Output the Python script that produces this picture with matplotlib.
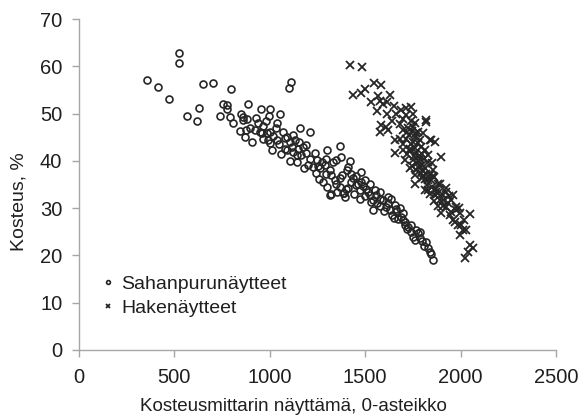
import matplotlib
matplotlib.use("Agg")
import matplotlib.pyplot as plt

plt.rcParams['font.family'] = ['Liberation Sans', 'DejaVu Sans']

# Sahanpurunäytteet (x = mittarin näyttämä, y = kosteus %)
saha_x = [354, 412, 473, 522, 525, 567, 618, 627, 648, 703, 740, 752, 778, 778, 799,
          791, 808, 847, 857, 860, 878, 843, 873, 895, 904, 887, 930, 939, 955, 1003,
          998, 1054, 965, 960, 983, 1003, 962, 991, 1017, 1038, 1003, 1014, 1070, 1157, 1213,
          1077, 1105, 1114, 1091, 1122, 1105, 1154, 1175, 1192, 1140, 1166, 1140, 1189, 1210, 1201,
          1236, 1245, 1271, 1227, 1262, 1288, 1297, 1302, 1367, 1332, 1349, 1375, 1314, 1293, 1258,
          1323, 1340, 1367, 1402, 1422, 1410, 1428, 1437, 1454, 1480, 1314, 1388, 1398, 1454, 1471,
          1489, 1506, 1527, 1471, 1524, 1541, 1550, 1559, 1541, 1323, 1384, 1393, 1349, 1428, 1515,
          1532, 1576, 1593, 1620, 1637, 1611, 1628, 1655, 1663, 1681, 1672, 1690, 1707, 1724, 1742,
          1742, 1768, 1777, 1785, 1759, 1785, 1817, 1829, 1838, 1847, 1855, 1110, 1100,
          1050, 1060, 1130, 1180, 1240, 1280, 1300, 1350, 1370, 1410, 1440, 1500, 1560, 1580, 1600,
          1640, 1650, 1700, 1710, 1720, 1750, 1800, 1810, 1700, 1580, 1620, 1660, 1480, 1500, 1380,
          1460, 1250, 1150, 1080, 920, 950, 1030, 1120, 1090, 870, 980, 1040]
saha_y = [57.2, 55.7, 53.1, 62.9, 60.7, 49.4, 48.4, 51.1, 56.2, 56.4, 49.4, 52.0, 51.9, 51.0, 55.1,
          49.2, 48.1, 50.0, 48.6, 49.3, 48.8, 46.3, 46.6, 47.0, 44.0, 52.0, 49.0, 48.1, 51.0, 51.0,
          49.5, 50.0, 47.4, 45.8, 45.8, 46.2, 44.7, 44.5, 45.2, 44.5, 43.7, 42.3, 46.0, 47.0, 46.0,
          42.6, 43.9, 43.0, 42.3, 41.9, 40.0, 44.0, 43.0, 43.3, 41.2, 41.2, 39.8, 41.6, 40.5, 39.1,
          41.6, 40.2, 39.8, 38.8, 38.4, 39.1, 40.3, 42.3, 43.1, 39.8, 40.2, 40.9, 38.1, 37.3, 36.1,
          37.0, 35.9, 36.3, 38.1, 40.0, 38.8, 37.3, 36.3, 36.7, 37.6, 32.8, 33.3, 34.0, 34.9, 33.8,
          34.7, 34.0, 35.2, 31.9, 32.8, 31.7, 33.8, 32.8, 29.6, 33.0, 33.1, 32.4, 35.2, 35.6, 33.5,
          31.4, 33.5, 31.7, 32.4, 32.0, 30.3, 29.6, 30.7, 29.3, 30.0, 27.8, 28.2, 27.1, 26.1, 26.4,
          25.0, 25.4, 24.7, 25.0, 23.3, 23.6, 22.8, 21.5, 20.8, 20.4, 19.0, 56.7, 55.4,
          43.5, 41.5, 44.5, 38.5, 37.5, 35.5, 34.5, 33.5, 34.5, 34.2, 33.0, 32.5, 31.0, 30.5, 29.5,
          28.5, 28.0, 27.5, 26.5, 25.5, 24.0, 23.0, 22.0, 29.0, 32.0, 31.0, 29.8, 35.5, 36.0, 37.0,
          35.2, 39.0, 42.5, 44.8, 46.5, 46.2, 47.0, 45.5, 45.0, 45.0, 48.5, 48.0]

# Hakenäytteet
hake_x = [1422, 1484, 1545, 1585, 1437, 1480, 1497, 1532, 1567, 1576, 1628, 1614, 1593, 1614, 1663,
          1690, 1715, 1742, 1715, 1750, 1820, 1585, 1611, 1576, 1620, 1681, 1698, 1750, 1777, 1655,
          1681, 1715, 1750, 1785, 1838, 1864, 1655, 1698, 1733, 1768, 1812, 1899, 1707, 1750, 1785,
          1829, 1733, 1777, 1812, 1855, 1759, 1803, 1847, 1881, 1829, 1873, 1925, 1890, 1951, 1977,
          1925, 1817, 1847, 1803, 1820, 1855, 1890, 1925, 1960, 1812, 1864, 1908, 1934, 1977, 2047,
          1899, 1943, 1960, 1995, 2004, 2030, 1995, 2047, 2065, 2039, 2021, 2012,
          1730, 1760, 1740, 1760, 1790, 1720, 1770, 1800, 1790, 1840, 1760, 1830, 1870, 1850, 1780,
          1810, 1700, 1740, 1760, 1700, 1860, 1900, 1940, 1880, 1990, 1970, 2020, 1830, 1850, 1720,
          1640, 1650, 1560,
          1725, 1745, 1765, 1735, 1755, 1775, 1795, 1745, 1765, 1785, 1805, 1815, 1825, 1795, 1775,
          1840, 1860, 1880, 1910, 1950, 1985]
hake_y = [60.3, 59.8, 56.4, 56.0, 53.9, 54.4, 55.1, 52.5, 53.7, 52.7, 53.9, 52.5, 52.1, 50.0, 50.0,
          50.7, 51.1, 51.4, 49.7, 50.0, 48.3, 47.6, 47.2, 46.2, 46.5, 47.9, 46.5, 47.2, 46.2, 44.4,
          44.7, 44.7, 44.0, 44.4, 44.4, 44.0, 41.6, 42.3, 42.6, 41.9, 42.3, 40.9, 40.2, 40.2, 40.5,
          39.8, 38.4, 38.8, 38.4, 38.1, 35.2, 36.7, 35.9, 35.2, 33.8, 33.5, 33.5, 31.7, 31.7, 30.3,
          30.3, 48.6, 44.5, 45.8, 37.3, 36.7, 35.2, 34.2, 32.8, 33.8, 32.8, 31.7, 31.0, 29.6, 28.7,
          28.9, 28.5, 27.5, 28.9, 26.4, 25.4, 24.3, 22.2, 21.5, 20.8, 19.4, 25.4,
          45.5, 45.0, 43.5, 42.8, 43.0, 41.5, 39.5, 39.2, 37.5, 37.0, 37.0, 36.0, 34.0, 34.5, 41.0,
          40.5, 43.5, 48.5, 48.0, 48.8, 31.5, 33.0, 32.5, 30.5, 30.0, 27.0, 27.5, 41.2, 39.5, 46.0,
          48.5, 51.5, 50.5,
          47.0, 46.3, 45.8, 42.0, 41.0, 40.0, 41.5, 39.0, 38.0, 39.0, 37.8, 36.2, 35.0, 36.3, 43.7,
          33.0, 36.5, 33.2, 30.5, 29.2, 26.5]

x_ticks = [0, 500, 1000, 1500, 2000, 2500]
y_ticks = [0, 10, 20, 30, 40, 50, 60, 70]

fig = plt.figure(figsize=(5.78, 4.18), dpi=100)
ax = fig.add_axes([0.1367, 0.1627, 0.962 - 0.1367, 0.9545 - 0.1627])

mark_col = '#262626'
text_col = '#1f1f1f'
ax.plot(saha_x, saha_y, linestyle='none', marker='o', markersize=5.0,
        markerfacecolor='none', markeredgecolor=mark_col, markeredgewidth=1.2,
        label='Sahanpurunäytteet')
ax.plot(hake_x, hake_y, linestyle='none', marker='x', markersize=5.6,
        color=mark_col, markeredgewidth=1.3, label='Hakenäytteet')

ax.set_xlim(0, 2500)
ax.set_ylim(0, 70)
ax.set_xticks(x_ticks)
ax.set_yticks(y_ticks)

for side in ['top', 'right']:
    ax.spines[side].set_visible(False)
for side in ['left', 'bottom']:
    ax.spines[side].set_color('#a6a6a6')
    ax.spines[side].set_linewidth(1.0)
ax.tick_params(direction='out', length=5, width=1.0, color='#a6a6a6',
               labelcolor=text_col, labelsize=14.5)
ax.tick_params(axis='y', pad=7)
ax.tick_params(axis='x', pad=8)

ax.set_xlabel('Kosteusmittarin näyttämä, 0-asteikko', fontsize=13.5, color=text_col)
ax.set_ylabel('Kosteus, %', fontsize=14, color=text_col)
ax.xaxis.set_label_coords(0.449, -0.145)
ax.yaxis.set_label_coords(-0.107, 0.447)

leg = ax.legend(loc='lower left', bbox_to_anchor=(0.02, 0.06), frameon=False,
                fontsize=14, markerscale=0.55, handlelength=0.6, handletextpad=0.4,
                labelspacing=0.3, borderpad=0.2)
for t in leg.get_texts():
    t.set_color(text_col)

fig.savefig('out.png', dpi=100)
